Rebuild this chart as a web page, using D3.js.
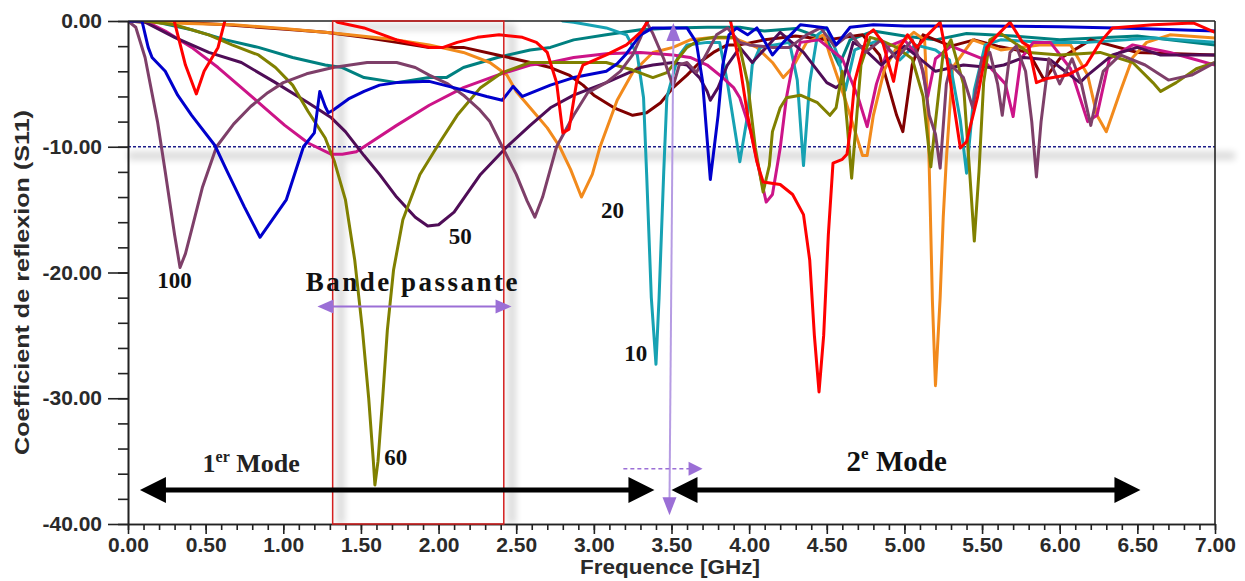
<!DOCTYPE html>
<html><head><meta charset="utf-8">
<script src="https://cdn.jsdelivr.net/npm/d3@7"></script>
<style>body{margin:0;background:#fff;} svg{display:block;}</style>
</head><body><svg id="c" width="1245" height="581"></svg>
<script>
// ---- data: [frequency GHz, S11 dB] (values above 0 dB are clipped by the plot frame) ----
const s100 = [[0,0],[0.05,-0.5],[0.11,-2.9],[0.19,-8.0],[0.24,-12.0],[0.3,-17],[0.335,-19.6],[0.37,-18.5],[0.41,-16.6],[0.48,-13.2],[0.57,-10.0],[0.68,-8.2],[0.79,-6.8],[0.9,-5.7],[1.0,-4.9],[1.15,-4.2],[1.32,-3.7],[1.54,-3.3],[1.73,-3.3],[1.85,-3.7],[1.94,-4.3],[2.06,-5.0],[2.16,-5.9],[2.26,-7.0],[2.33,-8.0],[2.41,-10.0],[2.5,-12.2],[2.57,-14.3],[2.62,-15.6],[2.67,-14.0],[2.76,-10],[2.87,-7.5],[2.96,-5.7],[3.08,-4.9],[3.17,-4.0],[3.25,-2.7],[3.3,-1.35],[3.34,-0.1],[3.38,-1.0],[3.45,-3.0],[3.51,-5.2],[3.55,-3.5],[3.6,-3.3],[3.66,-4.1],[3.73,-2.5],[3.79,-1.1],[3.86,-0.55],[3.94,-1.7],[4.0,-1.9],[4.15,-2.1],[4.26,-2.1],[4.37,-1.1],[4.46,-0.55],[4.55,-2.0],[4.65,-1.0],[4.75,-2.5],[4.85,-1.5],[4.95,-3],[5.05,-1.5],[5.12,-4],[5.16,-7.5],[5.2,-9],[5.23,-11.7],[5.27,-5],[5.3,-3.5],[5.38,-4.5],[5.44,-6.9],[5.5,-3.0],[5.55,-2.5],[5.6,-5],[5.63,-7.5],[5.68,-2.5],[5.72,-2],[5.78,-4],[5.82,-8],[5.85,-12.4],[5.88,-8],[5.93,-3],[6.0,-5],[6.08,-3],[6.14,-5],[6.2,-8.3],[6.24,-6],[6.28,-4],[6.39,-2.7],[6.55,-3.5],[6.7,-4.7],[6.85,-4.3],[7.0,-3.3]];
const sBlue = [[0,0],[0.09,0],[0.13,-2.1],[0.155,-2.9],[0.24,-4.0],[0.32,-5.9],[0.41,-7.5],[0.56,-9.9],[0.64,-12.0],[0.75,-14.8],[0.85,-17.2],[0.93,-15.8],[1.02,-14.2],[1.13,-10.0],[1.2,-8.9],[1.235,-5.6],[1.27,-6.8],[1.29,-7.3],[1.32,-7.1],[1.42,-6.2],[1.52,-5.6],[1.62,-5.1],[1.73,-4.9],[1.94,-4.8],[2.16,-5.5],[2.31,-6.0],[2.41,-6.3],[2.48,-5.2],[2.54,-6.0],[2.62,-5.6],[2.72,-5.1],[2.87,-4.5],[3.08,-4.0],[3.15,-3.4],[3.21,-2.6],[3.3,-1.1],[3.38,-0.55],[3.51,-0.55],[3.6,-0.55],[3.66,-1.7],[3.7,-4.8],[3.75,-12.6],[3.8,-7.5],[3.83,-3.5],[3.87,-1.1],[3.92,-0.55],[3.99,-1.1],[4.05,-0.55],[4.15,-2.7],[4.22,-1.7],[4.33,-0.3],[4.5,-0.55],[4.56,-1.9],[4.65,-0.5],[4.8,-0.3],[5.0,-0.4],[5.5,-0.4],[6.0,-0.45],[6.5,-0.6],[7.0,-0.8]];
const sRed = [[0,0.6],[0.28,0.6],[0.3,-0.1],[0.37,-3.5],[0.44,-5.8],[0.49,-4.0],[0.58,-2.1],[0.63,0.3],[0.7,0.6],[1.28,0.6],[1.35,-0.1],[1.52,-0.55],[1.73,-1.5],[1.94,-2.1],[2.03,-2.1],[2.12,-1.7],[2.25,-1.3],[2.39,-1.1],[2.54,-1.3],[2.63,-1.7],[2.7,-2.5],[2.76,-4.9],[2.8,-8.9],[2.84,-8.6],[2.89,-4.8],[2.93,-3.5],[3.08,-2.7],[3.21,-1.9],[3.3,-0.9],[3.36,0.2],[3.42,0.6],[3.84,0.6],[3.88,0],[3.94,-3.5],[3.99,-7.5],[4.05,-11.2],[4.09,-12.8],[4.2,-13.0],[4.28,-13.8],[4.35,-15.4],[4.39,-19],[4.42,-25],[4.45,-29.5],[4.48,-25],[4.51,-17],[4.54,-11.3],[4.6,-11.0],[4.63,-10.6],[4.65,-8.8],[4.68,-4.8],[4.76,-1.1],[4.8,-0.7],[4.86,-1.7],[4.93,-4.8],[4.97,-2.1],[5.02,-1.1],[5.08,-2.1],[5.15,-1.1],[5.23,-0.1],[5.27,-2.7],[5.36,-10.1],[5.4,-9.6],[5.47,-6.1],[5.53,-2.1],[5.6,-1.1],[5.68,-0.1],[5.76,-1.7],[5.8,-2.0],[5.85,-4.9],[5.91,-4.6],[6.05,-4.3],[6.17,-3.5],[6.26,-1.7],[6.34,-0.55],[6.6,-0.3],[6.86,-0.15],[7.0,-0.9]];
const sOrange = [[0,0],[0.1,-0.1],[0.68,-0.3],[1.0,-0.6],[1.32,-0.95],[1.73,-1.5],[1.94,-1.9],[2.16,-2.5],[2.33,-3.3],[2.44,-4.3],[2.5,-5.6],[2.61,-7.2],[2.7,-8.5],[2.78,-10],[2.85,-11.8],[2.92,-14.0],[2.99,-12.2],[3.04,-10],[3.15,-6.3],[3.25,-4.1],[3.38,-2.5],[3.51,-2.1],[3.62,-1.5],[3.73,-1.35],[3.9,-1.35],[4.05,-2.1],[4.15,-3.3],[4.22,-4.5],[4.28,-3.7],[4.37,-1.7],[4.48,-1.1],[4.52,-2.7],[4.62,-6.3],[4.7,-9.5],[4.73,-10.7],[4.76,-10.7],[4.8,-7.5],[4.87,-3.9],[4.95,-2.1],[5.06,-0.9],[5.13,-1.5],[5.15,-7],[5.165,-14.2],[5.18,-22.2],[5.2,-29],[5.23,-22],[5.25,-15.6],[5.27,-11],[5.31,-3.7],[5.44,-1.5],[5.62,-2.3],[5.87,-1.9],[6.07,-1.9],[6.18,-4.3],[6.24,-7.5],[6.3,-8.8],[6.39,-5.6],[6.47,-2.9],[6.56,-1.7],[6.71,-1.1],[7.0,-1.35]];
const s60 = [[0,0],[0.11,0],[0.3,-0.3],[0.52,-1.1],[0.67,-1.9],[0.84,-2.7],[0.95,-3.7],[1.06,-5.1],[1.16,-7.2],[1.27,-9.3],[1.33,-11.2],[1.4,-14.2],[1.46,-19],[1.51,-24.6],[1.55,-30],[1.58,-35],[1.59,-36.9],[1.61,-35],[1.64,-30],[1.67,-24.6],[1.71,-19.8],[1.77,-15.8],[1.88,-12.2],[2.01,-9.6],[2.12,-7.5],[2.27,-5.3],[2.41,-4.1],[2.59,-3.3],[2.87,-3.3],[3.08,-3.3],[3.25,-3.9],[3.38,-4.5],[3.47,-4.1],[3.51,-3.5],[3.6,-2.1],[3.68,-1.5],[3.77,-1.3],[3.9,-1.3],[3.94,-2.1],[3.99,-4.9],[4.04,-10.1],[4.09,-13.6],[4.13,-11.5],[4.15,-8.8],[4.2,-6.9],[4.24,-6.1],[4.33,-5.9],[4.44,-6.5],[4.52,-7.5],[4.56,-6.9],[4.6,-4],[4.63,-8],[4.66,-12.5],[4.69,-8],[4.72,-3.5],[4.78,-1.3],[4.84,-1.5],[4.95,-2.1],[5.05,-3],[5.12,-6],[5.17,-11.6],[5.2,-8],[5.25,-2.5],[5.3,-1.5],[5.38,-5],[5.42,-12],[5.45,-17.5],[5.48,-12],[5.51,-4.9],[5.55,-1.5],[5.62,-1.0],[5.8,-2.5],[6.0,-2.7],[6.26,-2.5],[6.47,-3.3],[6.6,-4.9],[6.65,-5.6],[6.75,-4.9],[6.88,-3.8],[7.0,-3.3]];
const sTeal = [[0,0],[0.04,0],[0.19,-0.1],[0.41,-0.7],[0.63,-1.5],[0.84,-2.1],[1.06,-2.9],[1.27,-3.5],[1.38,-3.7],[1.52,-4.5],[1.73,-4.9],[1.94,-4.5],[2.05,-4.5],[2.16,-3.7],[2.38,-2.9],[2.59,-2.3],[2.72,-2.1],[2.87,-1.5],[3.08,-1.1],[3.3,-0.7],[3.51,-0.55],[3.73,-0.5],[3.94,-0.5],[4.1,-0.8],[4.3,-0.6],[4.5,-1.5],[4.58,-3.5],[4.65,-1.5],[4.8,-0.8],[5.0,-1.2],[5.2,-1.5],[5.4,-1.0],[5.7,-1.2],[6.0,-1.5],[6.5,-1.2],[7.0,-1.9]];
const s10 = [[0,0.6],[2.74,0.6],[2.8,0],[2.87,-0.1],[3.08,-0.55],[3.21,-1.1],[3.28,-2.7],[3.32,-6.1],[3.34,-12.2],[3.37,-22],[3.4,-27.3],[3.42,-22],[3.45,-12],[3.47,-6.1],[3.54,-2.9],[3.6,-1.9],[3.73,-1.7],[3.81,-1.7],[3.86,-4.9],[3.92,-9.6],[3.94,-11.2],[3.99,-7.5],[4.02,-3.5],[4.07,-2.1],[4.26,-1.7],[4.31,-4.7],[4.35,-11.5],[4.39,-4.9],[4.44,-1.1],[4.5,-0.55],[4.57,-2.7],[4.62,-5.5],[4.68,-2.3],[4.84,-1.5],[4.97,-3.1],[5.07,-1.9],[5.2,-2.3],[5.29,-3.1],[5.36,-7.9],[5.4,-12.1],[5.45,-5.5],[5.52,-1.9],[5.62,-1.5],[5.94,-1.7],[6.18,-1.7],[6.6,-1.35],[7.0,-1.7]];
const sMagenta = [[0,0],[0.11,0],[0.24,-0.8],[0.41,-2.1],[0.58,-3.7],[0.73,-5.3],[0.88,-6.9],[1.01,-8.3],[1.16,-9.7],[1.31,-10.6],[1.38,-10.6],[1.47,-10.4],[1.52,-10.0],[1.73,-8.3],[1.94,-6.7],[2.16,-5.3],[2.38,-4.3],[2.59,-3.5],[2.72,-3.3],[2.87,-2.9],[3.08,-2.6],[3.3,-2.5],[3.51,-2.7],[3.62,-2.9],[3.73,-3.5],[3.83,-4.5],[3.9,-5.3],[3.94,-6.1],[4.01,-8.8],[4.07,-12.2],[4.11,-14.4],[4.15,-13.8],[4.2,-10.1],[4.24,-6.1],[4.28,-3.5],[4.33,-1.7],[4.45,-1.5],[4.6,-3],[4.7,-6],[4.76,-8.4],[4.82,-5],[4.9,-2],[5.0,-1.5],[5.1,-3],[5.15,-6],[5.2,-3],[5.3,-2],[5.5,-3],[5.65,-5],[5.7,-7.6],[5.75,-3],[5.83,-1.7],[5.94,-1.7],[6.07,-3.8],[6.18,-8],[6.24,-7.5],[6.32,-3],[6.47,-1.9],[6.71,-2.5],[7.0,-3.5]];
const sMaroon = [[0,0],[0.19,0],[0.63,-0.3],[1.06,-0.7],[1.27,-0.9],[1.52,-1.3],[1.73,-1.7],[1.94,-2.1],[2.16,-2.1],[2.38,-2.7],[2.59,-3.3],[2.72,-3.7],[2.84,-4.3],[2.93,-5.1],[3.0,-5.9],[3.13,-6.9],[3.25,-7.5],[3.34,-7.3],[3.43,-6.5],[3.51,-5.3],[3.6,-4.3],[3.68,-3.3],[3.77,-2.5],[3.86,-1.9],[3.94,-1.9],[4.1,-1.5],[4.3,-1.2],[4.5,-1.5],[4.73,-1.1],[4.84,-2.7],[4.95,-7.5],[4.99,-8.8],[5.05,-3.5],[5.12,-1.1],[5.3,-2],[5.45,-1.5],[5.6,-2],[5.8,-2.5],[5.9,-4.7],[6.0,-3],[6.2,-1.5],[6.5,-2.5],[7.0,-2.7]];
const s50 = [[0,0],[0.11,-0.1],[0.3,-1.3],[0.52,-2.5],[0.73,-3.3],[0.95,-4.9],[1.16,-6.5],[1.31,-7.7],[1.4,-8.8],[1.52,-10.7],[1.62,-12.2],[1.73,-14.0],[1.85,-15.6],[1.93,-16.3],[2.0,-16.2],[2.1,-15.2],[2.27,-12.2],[2.44,-10.0],[2.59,-8.3],[2.72,-6.9],[2.87,-5.9],[3.08,-4.9],[3.3,-3.7],[3.38,-3.5],[3.51,-3.3],[3.6,-3.5],[3.68,-4.5],[3.73,-5.6],[3.75,-6.3],[3.8,-5.3],[3.86,-3.5],[3.94,-2.1],[4.02,-3.3],[4.11,-2.1],[4.2,-0.9],[4.35,-2.5],[4.5,-4.9],[4.56,-5.3],[4.6,-4.9],[4.67,-1.7],[4.73,-2.1],[4.85,-3.5],[5.0,-2],[5.2,-4],[5.38,-3.5],[5.55,-3.7],[5.64,-3.5],[5.77,-2.9],[5.94,-3.1],[6.13,-4.9],[6.18,-4.3],[6.34,-2.7],[6.5,-2.1],[6.65,-2.7],[7.0,-2.7]];

const seriesOrder = [
  {d:sTeal, c:"#008080"}, {d:sMaroon, c:"#800000"}, {d:sOrange, c:"#f28a1c"},
  {d:s10, c:"#17a2b3"}, {d:sMagenta, c:"#cc1488"}, {d:s50, c:"#4f0d57"},
  {d:s60, c:"#808000"}, {d:s100, c:"#7e3f69"}, {d:sBlue, c:"#0000cc"}, {d:sRed, c:"#ff0000"}
];
const yTicks = [0,-10,-20,-30,-40];
const xTicks = [0,0.5,1,1.5,2,2.5,3,3.5,4,4.5,5,5.5,6,6.5,7];
const yMinor = d3.range(0,-40.01,-2);
const xMinor = d3.range(0,7.001,0.1);
const bandGHz = [1.318,2.42];
const refLevel = -10;
const labels = [
  {t:"100", f:0.30, v:-21.2}, {t:"50", f:2.14, v:-17.7}, {t:"20", f:3.12, v:-15.7},
  {t:"10", f:3.27, v:-27.0}, {t:"60", f:1.725, v:-35.3}
];

const svg = d3.select("#c");
const x = d3.scaleLinear().domain([0,7]).range([128,1215]);
const y = d3.scaleLinear().domain([0,-40]).range([21,524]);
const defs = svg.append("defs");
defs.append("clipPath").attr("id","clip").append("rect")
  .attr("x",x(0)).attr("y",y(0)).attr("width",x(7)-x(0)).attr("height",y(-40)-y(0));
defs.append("filter").attr("id","blur").attr("x","-50%").attr("y","-50%").attr("width","200%").attr("height","200%")
  .append("feGaussianBlur").attr("stdDeviation",3.5);

// shadows
const sh = svg.append("g").attr("filter","url(#blur)").attr("opacity",0.15);
sh.append("line").attr("x1",x(0)).attr("x2",x(7)+20).attr("y1",y(refLevel)+9).attr("y2",y(refLevel)+9)
  .attr("stroke","#000").attr("stroke-width",8);
sh.append("line").attr("x1",x(bandGHz[0])+8).attr("x2",x(bandGHz[0])+8).attr("y1",y(0)+4).attr("y2",y(-40))
  .attr("stroke","#000").attr("stroke-width",8);
sh.append("line").attr("x1",x(bandGHz[1])+8).attr("x2",x(bandGHz[1])+8).attr("y1",y(0)+4).attr("y2",y(-40))
  .attr("stroke","#000").attr("stroke-width",8);
sh.append("line").attr("x1",x(bandGHz[0])).attr("x2",x(bandGHz[1])+8).attr("y1",y(0)+6).attr("y2",y(0)+6)
  .attr("stroke","#000").attr("stroke-width",6);

// ref line
svg.append("line").attr("x1",x(0)).attr("x2",x(7)).attr("y1",y(refLevel)).attr("y2",y(refLevel))
  .attr("stroke","#1c1c8a").attr("stroke-width",1.3).attr("stroke-dasharray","3,2");

// curves
const line = d3.line().x(d=>x(d[0])).y(d=>y(d[1]));
const cg = svg.append("g").attr("clip-path","url(#clip)");
seriesOrder.forEach(s=>{
  cg.append("path").attr("d",line(s.d)).attr("fill","none").attr("stroke",s.c)
    .attr("stroke-width",3).attr("stroke-linejoin","round");
});

// axes
const tickFont = g=>g.selectAll("text").attr("font-family","'Liberation Sans', Arial, sans-serif")
  .attr("font-weight","bold").attr("font-size",21).attr("fill","#2a2a2a");
const ya = svg.append("g").attr("transform",`translate(${x(0)},0)`)
  .call(d3.axisLeft(y).tickValues(yTicks).tickFormat(d=>d.toFixed(2)).tickSize(20).tickSizeOuter(0).tickPadding(6));
ya.call(tickFont);
svg.append("g").attr("transform",`translate(${x(0)},0)`)
  .call(d3.axisLeft(y).tickValues(yMinor).tickFormat("").tickSize(10).tickSizeOuter(0));
const xa = svg.append("g").attr("transform",`translate(0,${y(-40)})`)
  .call(d3.axisBottom(x).tickValues(xTicks).tickFormat(d=>d.toFixed(2)).tickSize(10).tickSizeOuter(0).tickPadding(3));
xa.call(tickFont);
svg.append("g").attr("transform",`translate(0,${y(-40)})`)
  .call(d3.axisBottom(x).tickValues(xMinor).tickFormat("").tickSize(6).tickSizeOuter(0));
svg.selectAll(".domain, .tick line").attr("stroke","#222").attr("stroke-width",1.6);
// top and right frame
svg.append("line").attr("x1",x(0)).attr("x2",x(7)).attr("y1",y(0)).attr("y2",y(0)).attr("stroke","#222").attr("stroke-width",1.6);
svg.append("line").attr("x1",x(7)).attr("x2",x(7)).attr("y1",y(0)).attr("y2",y(-40)).attr("stroke","#222").attr("stroke-width",1.6);

// band box (over the frame)
svg.append("rect").attr("x",x(bandGHz[0])).attr("y",y(0)).attr("width",x(bandGHz[1])-x(bandGHz[0]))
  .attr("height",y(-40)-y(0)).attr("fill","none").attr("stroke","#d41f1f").attr("stroke-width",1.5);

// axis titles
svg.append("text").attr("transform",`translate(29,${(y(0)+y(-40))/2+10}) rotate(-90)`).attr("text-anchor","middle")
  .attr("font-family","'Liberation Sans', Arial, sans-serif").attr("font-weight","bold").attr("font-size",21)
  .attr("textLength",345).attr("lengthAdjust","spacingAndGlyphs")
  .attr("fill","#2a2a2a").text("Coefficient de reflexion (S11)");
svg.append("text").attr("x",670).attr("y",574).attr("text-anchor","middle")
  .attr("font-family","'Liberation Sans', Arial, sans-serif").attr("font-weight","bold").attr("font-size",21)
  .attr("textLength",180).attr("lengthAdjust","spacingAndGlyphs")
  .attr("fill","#2a2a2a").text("Frequence [GHz]");

// series labels
const serif = "'Liberation Serif', 'Times New Roman', serif";
labels.forEach(l=>{
  svg.append("text").attr("x",x(l.f)).attr("y",y(l.v)).attr("text-anchor","middle")
    .attr("font-family",serif).attr("font-weight","bold").attr("font-size",23).attr("fill","#111").text(l.t);
});
svg.append("text").attr("x",x(1.835)).attr("y",y(-21.5)).attr("text-anchor","middle")
  .attr("font-family",serif).attr("font-weight","bold").attr("font-size",27).attr("letter-spacing",2.5)
  .attr("fill","#111").text("Bande passante");

// arrows helper
function arrowHead(px,py,dir,len,half,color){
  let pts;
  if(dir==='r') pts=[[px,py],[px-len,py-half],[px-len,py+half]];
  if(dir==='l') pts=[[px,py],[px+len,py-half],[px+len,py+half]];
  if(dir==='u') pts=[[px,py],[px-half,py+len],[px+half,py+len]];
  if(dir==='d') pts=[[px,py],[px-half,py-len],[px+half,py-len]];
  svg.append("polygon").attr("points",pts.map(p=>p.join(",")).join(" ")).attr("fill",color);
}
const purple = "#9b6fd6";
{
  const x1=x(1.22), x2=x(2.47), yy=y(-22.7);
  svg.append("line").attr("x1",x1+10).attr("x2",x2-10).attr("y1",yy).attr("y2",yy).attr("stroke",purple).attr("stroke-width",2);
  arrowHead(x1,yy,'l',16,7,purple); arrowHead(x2,yy,'r',16,7,purple);
}
function dblArrow(f1,f2,v){
  const x1=x(f1), x2=x(f2), yy=y(v);
  svg.append("line").attr("x1",x1+20).attr("x2",x2-20).attr("y1",yy).attr("y2",yy).attr("stroke","#000").attr("stroke-width",5);
  arrowHead(x1,yy,'l',26,13,"#000"); arrowHead(x2,yy,'r',26,13,"#000");
}
dblArrow(0.077,3.39,-37.3);
dblArrow(3.50,6.52,-37.3);
{
  const xt=x(3.512), xb=x(3.487);
  svg.append("line").attr("x1",xt).attr("x2",xb).attr("y1",y(0)+12).attr("y2",y(-39.3)-12).attr("stroke","#b69ce3").attr("stroke-width",2);
  arrowHead(xt,y(0)+2,'u',18,7,purple);
  arrowHead(xb,y(-39.3),'d',18,7,purple);
}
{
  const x1=x(3.19), x2=x(3.70), yy=y(-35.6);
  svg.append("line").attr("x1",x1).attr("x2",x2-12).attr("y1",yy).attr("y2",yy).attr("stroke",purple).attr("stroke-width",1.5).attr("stroke-dasharray","4,3");
  arrowHead(x2,yy,'r',14,7,purple);
}
const t1 = svg.append("text").attr("x",x(0.48)).attr("y",y(-35.9)).attr("font-family",serif).attr("font-weight","bold")
  .attr("font-size",26).attr("fill","#222");
t1.append("tspan").text("1");
t1.append("tspan").attr("font-size",16).attr("dy",-10).text("er");
t1.append("tspan").attr("dy",10).text(" Mode");
const t2 = svg.append("text").attr("x",x(4.95)).attr("y",y(-35.8)).attr("text-anchor","middle").attr("font-family",serif).attr("font-weight","bold")
  .attr("font-size",29).attr("fill","#111");
t2.append("tspan").text("2");
t2.append("tspan").attr("font-size",17).attr("dy",-12).text("e");
t2.append("tspan").attr("dy",12).text(" Mode");
</script></body></html>
